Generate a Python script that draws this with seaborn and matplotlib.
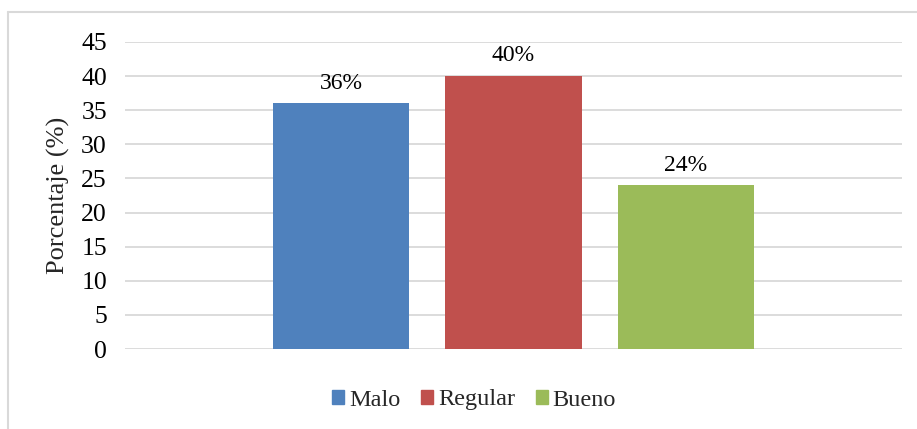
import matplotlib
matplotlib.use("Agg")
import matplotlib.pyplot as plt
from matplotlib.lines import Line2D
import pandas as pd
import seaborn as sns

niveles = ["Malo", "Regular", "Bueno"]
porcentajes = [36, 40, 24]
etiquetas = ["36%", "40%", "24%"]
colores = ["#4F81BD", "#C0504D", "#9BBB59"]

df = pd.DataFrame({"grupo": [""] * 3, "nivel": niveles, "pct": porcentajes})

sns.set_style("white")
plt.rcParams["font.family"] = ["Liberation Serif", "DejaVu Serif"]

W, H = 917, 429
fig = plt.figure(figsize=(W / 100, H / 100), dpi=100)
ax = fig.add_axes([125 / W, (H - 349) / H, (902 - 125) / W, (349 - 42) / H])

sns.barplot(data=df, x="grupo", y="pct", hue="nivel", hue_order=niveles,
            palette=colores, width=0.665, gap=0.21, saturation=1,
            linewidth=0, legend=False, ax=ax)

for cont, lab in zip(ax.containers, etiquetas):
    ax.bar_label(cont, labels=[lab], padding=7, fontsize=17, color="#000000")

ax.set_xlim(-0.5, 0.5)
ax.set_ylim(0, 45)
ax.set_yticks(range(0, 46, 5))
ax.yaxis.grid(True, color="#d9d9d9", linewidth=1.3)
ax.set_axisbelow(True)
for s in ax.spines.values():
    s.set_visible(False)
ax.tick_params(axis="y", labelsize=18.5, length=0, pad=13, colors="#000000")
ax.set_xticks([])
ax.set_xlabel("")
ax.set_ylabel("Porcentaje (%)", fontsize=19, labelpad=8)

handles = [plt.Rectangle((0, 0), 1, 1, color=c) for c in colores]
fig.legend(handles, niveles, loc="center", bbox_to_anchor=(474 / W, (H - 400) / H),
           ncol=3, frameon=False, fontsize=17.5, handlelength=0.5, handleheight=0.5,
           handletextpad=0.2, columnspacing=0.85)

# borde del área del gráfico
fig.add_artist(Line2D([8 / W, 8 / W], [0, (H - 12) / H], color="#d9d9d9", linewidth=1.5))
fig.add_artist(Line2D([8 / W, 1], [(H - 12) / H, (H - 12) / H], color="#d9d9d9", linewidth=1.5))

fig.savefig("out.png", dpi=100)
